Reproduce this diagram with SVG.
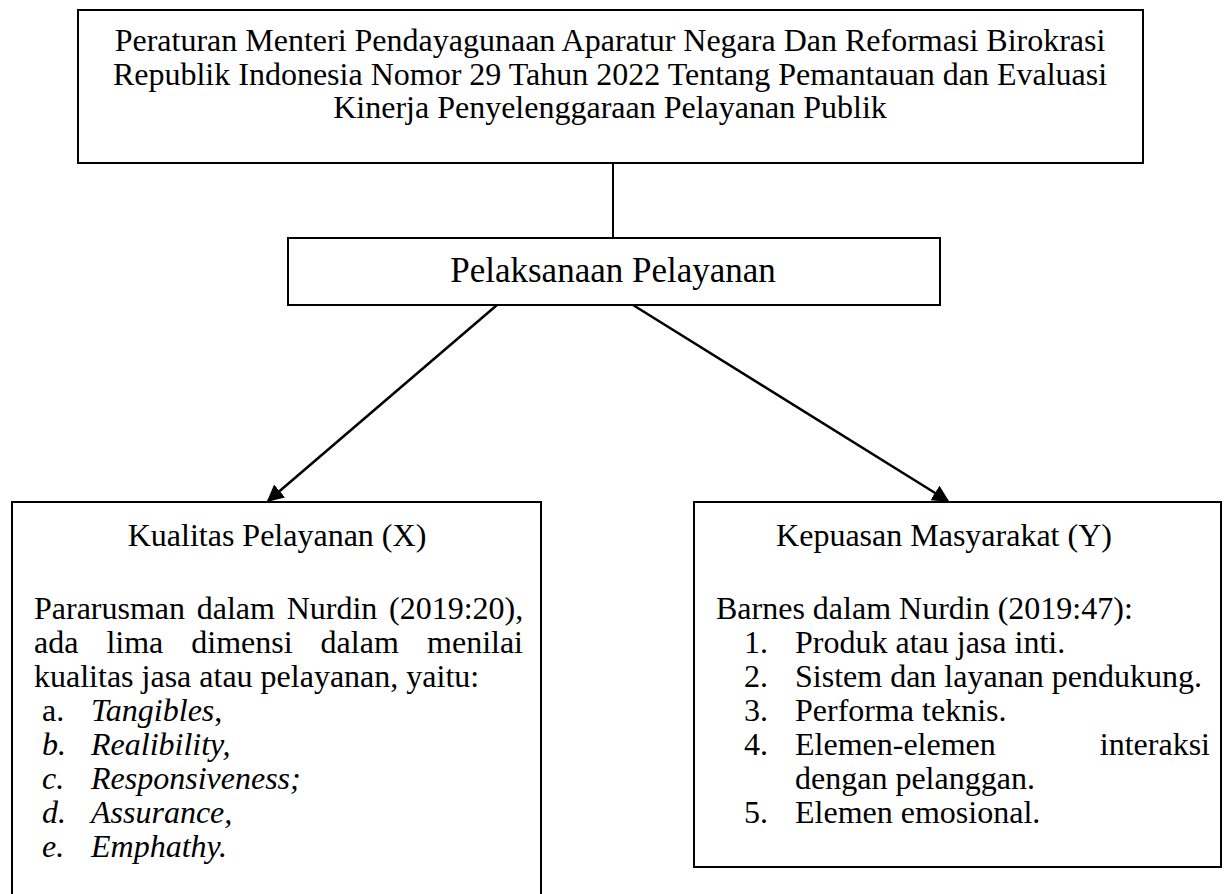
<svg xmlns="http://www.w3.org/2000/svg" width="1226" height="894" viewBox="0 0 1226 894">
<style>
.box{fill:#fff;stroke:#000;stroke-width:2}
.t{font-family:"Liberation Serif","Times New Roman",serif;font-size:32px;fill:#000}
.m{text-anchor:middle}
.e{text-anchor:end}
.i{font-style:italic}
.c{stroke:#000;stroke-width:2.5;fill:none}
</style>
<defs>
<marker id="ah" viewBox="0 0 10 10" refX="9" refY="5" markerWidth="17" markerHeight="17" markerUnits="userSpaceOnUse" orient="auto">
<path d="M0,0 L10,5 L0,10 z" fill="#000"/>
</marker>
</defs>
<rect width="1226" height="894" fill="#fff"/>
<g id="connectors">
<line class="c" x1="613" y1="163" x2="613" y2="238" style="stroke-width:2"/>
<path class="c" d="M497,305 L268,501" marker-end="url(#ah)"/>
<path class="c" d="M633,305 L948,501" marker-end="url(#ah)"/>
</g>
<g id="n-peraturan">
<rect class="box" x="78" y="10" width="1065" height="153"/>
<text class="t m" x="610" y="51">Peraturan Menteri Pendayagunaan Aparatur Negara Dan Reformasi Birokrasi</text>
<text class="t m" x="610" y="85">Republik Indonesia Nomor 29 Tahun 2022 Tentang Pemantauan dan Evaluasi</text>
<text class="t m" x="610" y="118">Kinerja Penyelenggaraan Pelayanan Publik</text>
</g>
<g id="n-pelaksanaan">
<rect class="box" x="288" y="238" width="652" height="67"/>
<text class="t m" x="613" y="282" style="font-size:35px">Pelaksanaan Pelayanan</text>
</g>
<g id="n-kualitas">
<path class="box" d="M12,900 L12,502 L541,502 L541,900"/>
<text class="t m" x="277" y="546">Kualitas Pelayanan (X)</text>
<text class="t" x="34" y="619" word-spacing="3.7">Pararusman dalam Nurdin (2019:20),</text>
<text class="t" y="653"><tspan x="34">ada</tspan><tspan x="106.4">lima</tspan><tspan x="191.3">dimensi</tspan><tspan x="320.6">dalam</tspan></text>
<text class="t e" x="523" y="653">menilai</text>
<text class="t" x="34" y="687">kualitas jasa atau pelayanan, yaitu:</text>
<text class="t" x="42" y="721">a.</text><text class="t" x="91" y="721"><tspan class="i">Tangibles</tspan>,</text>
<text class="t i" x="42" y="755">b.</text><text class="t i" x="91" y="755">Realibility,</text>
<text class="t i" x="42" y="789">c.</text><text class="t i" x="91" y="789">Responsiveness;</text>
<text class="t i" x="42" y="823">d.</text><text class="t i" x="91" y="823">Assurance,</text>
<text class="t i" x="42" y="857">e.</text><text class="t i" x="91" y="857">Emphathy.</text>
</g>
<g id="n-kepuasan">
<rect class="box" x="694" y="502" width="527" height="365"/>
<text class="t m" x="944" y="546">Kepuasan Masyarakat (Y)</text>
<text class="t" x="716" y="619">Barnes dalam Nurdin (2019:47):</text>
<text class="t" x="744" y="653">1.</text><text class="t" x="795" y="653">Produk atau jasa inti.</text>
<text class="t" x="744" y="687">2.</text><text class="t" x="795" y="687">Sistem dan layanan pendukung.</text>
<text class="t" x="744" y="721">3.</text><text class="t" x="795" y="721">Performa teknis.</text>
<text class="t" x="744" y="755">4.</text><text class="t" x="795" y="755">Elemen-elemen</text><text class="t e" x="1210" y="755">interaksi</text>
<text class="t" x="795" y="789">dengan pelanggan.</text>
<text class="t" x="744" y="823">5.</text><text class="t" x="795" y="823">Elemen emosional.</text>
</g>
</svg>
